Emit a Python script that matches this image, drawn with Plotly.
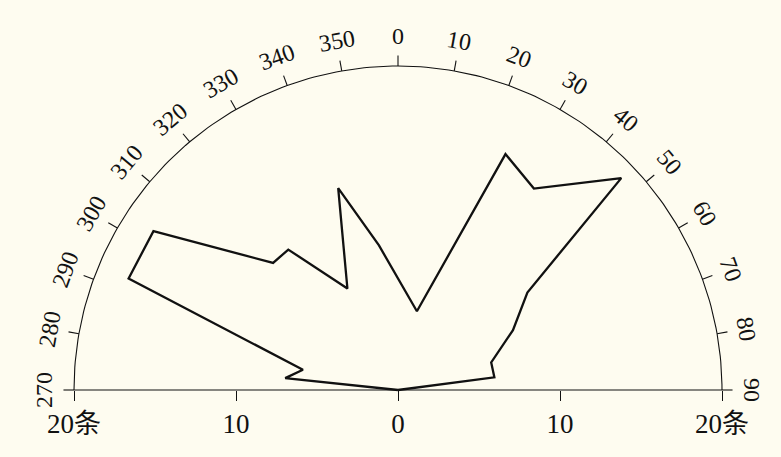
import numpy as np
import plotly.graph_objects as go

# Strike rose: bin direction (degrees clockwise from north) and number of readings
strike_deg = [82.5, 73.5, 62.5, 53, 46.5, 34, 24.5, 13.5, 352.5, 343.5,
              333.5, 322, 315.5, 303, 292.5, 282, 276]
strike_count = [6, 6, 8, 10, 19, 15, 16, 5, 9, 13, 7, 11, 11, 18, 18, 6, 7]

# Dial graduations around the half circle and scale labels along the base
dial_ticks = [270, 280, 290, 300, 310, 320, 330, 340, 350,
              0, 10, 20, 30, 40, 50, 60, 70, 80, 90]
scale_vals = [-20, -10, 0, 10, 20]
scale_text = ["20条", "10", "0", "10", "20条"]
R_MAX = 20

W, H = 781, 457
PX = 16.2            # pixels per count
CX, CY = 398, 390    # pixel position of the rose centre
BG = "#FEFCF0"
INK = "#111111"
SERIF = "'Liberation Serif', 'Noto Sans CJK SC', serif"


def polar_xy(deg, r):
    t = np.radians(np.asarray(deg, dtype=float))
    r = np.asarray(r, dtype=float)
    return r * np.sin(t), r * np.cos(t)


fig = go.Figure()

# outer half circle
arc_t = np.linspace(-90, 90, 181)
ax_, ay_ = polar_xy(arc_t, np.full_like(arc_t, R_MAX))
fig.add_trace(go.Scatter(x=ax_, y=ay_, mode="lines",
                         line=dict(color=INK, width=1.1), hoverinfo="skip"))

# base line across the diameter
fig.add_trace(go.Scatter(x=[-R_MAX, R_MAX], y=[0, 0], mode="lines",
                         line=dict(color=INK, width=1.1), hoverinfo="skip"))

# outward graduation ticks on the arc
tx, ty = [], []
for d in dial_ticks:
    x1, y1 = polar_xy(d, R_MAX)
    x2, y2 = polar_xy(d, R_MAX + 0.65)
    tx += [float(x1), float(x2), None]
    ty += [float(y1), float(y2), None]
fig.add_trace(go.Scatter(x=tx, y=ty, mode="lines",
                         line=dict(color=INK, width=1.1), hoverinfo="skip"))

# the rose outline, closed through the centre
px_, py_ = polar_xy(strike_deg, strike_count)
fig.add_trace(go.Scatter(x=np.concatenate([[0], px_, [0]]),
                         y=np.concatenate([[0], py_, [0]]),
                         mode="lines", line=dict(color=INK, width=2.3),
                         hoverinfo="skip"))

# tangential dial labels
for d in dial_ticks:
    lx, ly = polar_xy(d, 21.85)
    ang = d if d <= 90 else d - 360
    fig.add_annotation(x=float(lx), y=float(ly), xref="x", yref="y",
                       text=str(d), showarrow=False, textangle=ang,
                       font=dict(family=SERIF, size=24, color=INK))

fig.update_layout(
    width=W, height=H, autosize=False,
    margin=dict(l=0, r=0, t=0, b=0),
    paper_bgcolor=BG, plot_bgcolor=BG,
    showlegend=False,
    xaxis=dict(range=[-CX / PX, (W - CX) / PX], showgrid=False, zeroline=False,
               showline=False, anchor="free", position=(H - CY) / H,
               tickmode="array", tickvals=scale_vals, ticktext=scale_text,
               ticks="outside", ticklen=10, tickwidth=1, tickcolor=INK,
               tickfont=dict(family=SERIF, size=27, color=INK),
               fixedrange=True),
    yaxis=dict(range=[-(H - CY) / PX, CY / PX], visible=False,
               showgrid=False, zeroline=False, fixedrange=True),
)

fig.write_html("out.html")
